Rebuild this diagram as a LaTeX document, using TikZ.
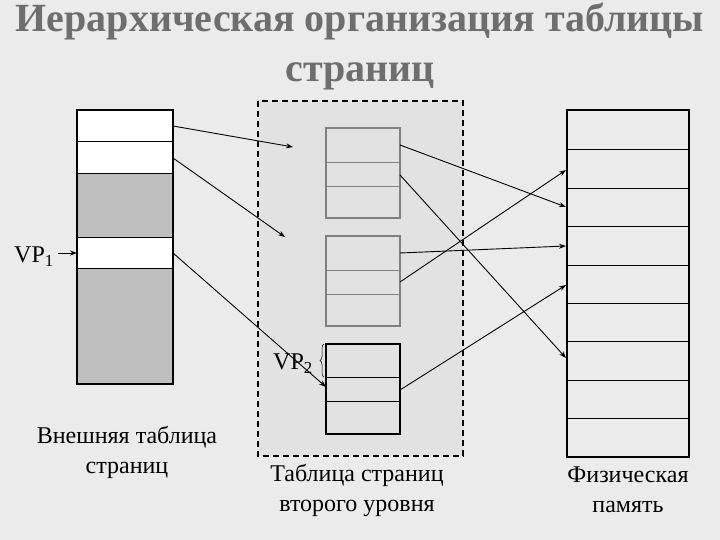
\documentclass[tikz,border=0pt]{standalone}
\usepackage{fontspec}
\setmainfont{Liberation Serif}
\usetikzlibrary{arrows.meta,decorations.pathreplacing}
\definecolor{bg}{HTML}{EBEBEB}
\definecolor{mid}{HTML}{E2E2E2}
\definecolor{greyfill}{HTML}{BEBEBE}
\definecolor{ttl}{HTML}{6E6E6E}
\tikzset{
 conn/.style={line width=0.9pt,-{Stealth[length=7pt,width=5pt]}},
 lbl/.style={font=\fontsize{24}{30}\selectfont,align=center},
 pbox/.style={draw=gray,line width=1.2pt},
 row/.style={line width=0.6pt}
}
\begin{document}
\begin{tikzpicture}[x=1pt,y=-1pt]
\useasboundingbox (0,0) rectangle (720,540);
\fill[bg] (0,0) rectangle (720,540);
\node[text=ttl,font=\bfseries\fontsize{40}{50}\selectfont,align=center] (title) at (360,46) {Иерархическая организация таблицы\\страниц};
% dashed region
\draw[fill=mid,line width=1.3pt,dash pattern=on 6pt off 4pt] (258,101) rectangle (463,456);
% outer table
\fill[white] (77,110) rectangle (173,384);
\fill[greyfill] (77,173) rectangle (173,237);
\fill[greyfill] (77,268) rectangle (173,384);
\foreach \y in {141,173,237,268} \draw[row] (77,\y) -- (173,\y);
\draw[line width=1.2pt] (77,110) rectangle (173,384);
% second level tables
\draw[pbox] (326,128) rectangle (400,218);
\foreach \y in {162,186} \draw[row,draw=gray] (326,\y) -- (400,\y);
\draw[pbox] (326,236) rectangle (400,326);
\foreach \y in {270,294} \draw[row,draw=gray] (326,\y) -- (400,\y);
\draw[line width=1.2pt] (326,344) rectangle (400,434);
\foreach \y in {377,401} \draw[row] (326,\y) -- (400,\y);
% physical memory
\foreach \y in {149,188,226,265,303,341,380,418} \draw[row] (567,\y) -- (689,\y);
\draw[line width=1.2pt] (567,110) rectangle (689,457);
% coordinates
\coordinate (o1) at (173,126); \coordinate (e1) at (293,147);
\coordinate (o2) at (173,158); \coordinate (e2) at (285,237);
\coordinate (o3) at (173,253); \coordinate (e3) at (326,387);
\coordinate (a1) at (400,145); \coordinate (p1) at (566,207);
\coordinate (a2) at (400,175); \coordinate (p2) at (566,358);
\coordinate (b1) at (400,253); \coordinate (p3) at (566,246);
\coordinate (b2) at (400,282); \coordinate (p4) at (566,170);
\coordinate (c1) at (400,390); \coordinate (p5) at (566,285);
\coordinate (v1s) at (58,253); \coordinate (v1e) at (77,253);
\draw[conn] (o1) -- (e1);
\draw[conn] (o2) -- (e2);
\draw[conn] (o3) -- (e3);
\draw[conn] (a1) -- (p1);
\draw[conn] (a2) -- (p2);
\draw[conn] (b1) -- (p3);
\draw[conn] (b2) -- (p4);
\draw[conn] (c1) -- (p5);
\draw[conn] (v1s) -- (v1e);
\node[lbl] (vp1) at (34,257) {VP\textsubscript{1}};
\node[lbl] (vp2) at (293,364) {VP\textsubscript{2}};
\draw[line width=0.5pt,decorate,decoration={brace,amplitude=4pt}] (324,377) -- (324,344);
\node[lbl] (l1) at (127,452) {Внешняя таблица\\страниц};
\node[lbl] (l2) at (357,490) {Таблица страниц\\второго уровня};
\node[lbl] (l3) at (628,490) {Физическая\\память};
\end{tikzpicture}
\end{document}
